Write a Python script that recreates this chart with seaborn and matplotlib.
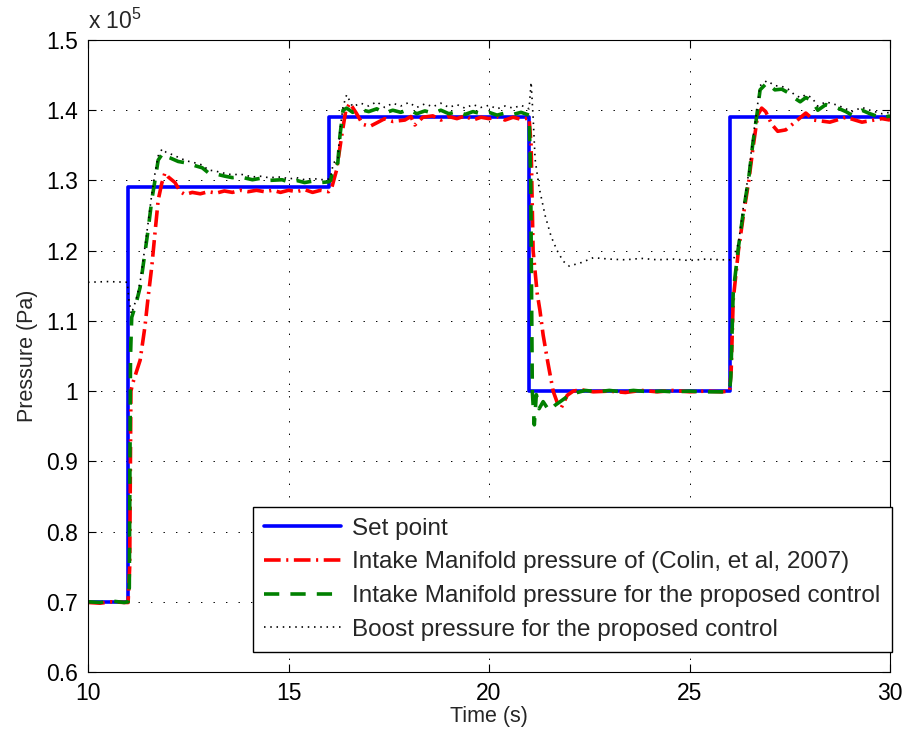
import numpy as np
import pandas as pd
import matplotlib
matplotlib.use("Agg")
import matplotlib.pyplot as plt
import seaborn as sns

# Pressure values in units of 1e5 Pa
SCALE_EXP = 5

# Set point
t_set = [10.0, 11.0, 11.0, 16.0, 16.0, 21.0, 21.0, 26.0, 26.0, 30.0]
p_set = [0.70, 0.70, 1.29, 1.29, 1.39, 1.39, 1.00, 1.00, 1.39, 1.39]

# Intake manifold pressure, reference controller (Colin et al., 2007)
t_colin = [10.0, 10.3, 10.6, 10.9, 11.0, 11.04, 11.07, 11.12, 11.3, 11.42, 11.5, 11.59,
           11.67, 11.75, 11.84, 11.92, 12.0, 12.17, 12.3, 12.42, 12.6, 12.8, 13.0, 13.2,
           13.4, 13.6, 13.8, 14.0, 14.2, 14.4, 14.6, 14.8, 15.0, 15.2, 15.4, 15.6, 15.8,
           16.0, 16.08, 16.2, 16.33, 16.43, 16.53, 16.7, 16.85, 17.03, 17.2, 17.4, 17.6,
           17.9, 18.05, 18.15, 18.35, 18.6, 18.8, 19.0, 19.2, 19.4, 19.6, 19.8, 20.0, 20.2,
           20.4, 20.6, 20.8, 21.0, 21.05, 21.1, 21.2, 21.27, 21.35, 21.47, 21.6, 21.7, 21.8,
           21.95, 22.1, 22.3, 22.6, 23.0, 23.4, 23.8, 24.2, 24.6, 25.0, 25.4, 25.8, 26.0,
           26.04, 26.09, 26.22, 26.35, 26.48, 26.58, 26.7, 26.8, 26.9, 27.05, 27.2, 27.4,
           27.63, 27.9, 28.1, 28.5, 28.9, 29.3, 29.6, 29.8, 30.0]
p_colin = [0.699, 0.698, 0.700, 0.699, 0.699, 0.75, 1.00, 1.012, 1.044, 1.092, 1.134, 1.177,
           1.225, 1.272, 1.296, 1.311, 1.305, 1.297, 1.284, 1.280, 1.283, 1.281, 1.284, 1.282,
           1.285, 1.283, 1.286, 1.284, 1.286, 1.284, 1.286, 1.283, 1.286, 1.284, 1.287, 1.283, 1.286,
           1.284, 1.290, 1.315, 1.365, 1.400, 1.410, 1.395, 1.380, 1.377, 1.382, 1.388, 1.384,
           1.386, 1.391, 1.379, 1.390, 1.392, 1.386, 1.391, 1.388, 1.392, 1.386, 1.390, 1.388, 1.391,
           1.386, 1.390, 1.387, 1.389, 1.35, 1.20, 1.14, 1.115, 1.08, 1.04, 1.00, 0.984, 0.976,
           0.994, 1.000, 1.002, 0.999, 1.000, 0.998, 1.001, 0.999, 1.001, 0.999, 1.000, 0.999, 1.000,
           1.03, 1.13, 1.20, 1.253, 1.300, 1.345, 1.393, 1.403, 1.398, 1.380, 1.370, 1.372,
           1.383, 1.396, 1.386, 1.383, 1.390, 1.383, 1.386, 1.388, 1.386]

# Intake manifold pressure, proposed controller
t_prop = [10.0, 10.3, 10.6, 10.9, 11.0, 11.03, 11.06, 11.09, 11.2, 11.3, 11.42, 11.5, 11.59,
          11.67, 11.75, 11.87, 11.95, 12.05, 12.25, 12.45, 12.67, 12.85, 13.0, 13.2, 13.42,
          13.6, 13.8, 14.1, 14.3, 14.5, 14.84, 15.0, 15.2, 15.4, 15.6, 15.8, 16.0, 16.05,
          16.12, 16.23, 16.28, 16.36, 16.45, 16.6, 16.8, 17.0, 17.2, 17.4, 17.6, 17.8, 18.0,
          18.2, 18.4, 18.6, 18.8, 19.0, 19.2, 19.4, 19.6, 19.8, 20.0, 20.2, 20.4, 20.6, 20.8,
          21.0, 21.04, 21.08, 21.13, 21.18, 21.25, 21.35, 21.5, 21.65, 21.8, 21.97, 22.2,
          22.4, 22.7, 23.0, 23.3, 23.6, 24.0, 24.3, 24.6, 25.0, 25.3, 25.6, 25.9, 26.0, 26.03,
          26.09, 26.22, 26.35, 26.48, 26.58, 26.68, 26.76, 26.93, 27.13, 27.3, 27.46, 27.6,
          27.76, 27.9, 28.05, 28.2, 28.4, 28.7, 28.9, 29.05, 29.3, 29.5, 29.8, 30.0]
p_prop = [0.700, 0.699, 0.701, 0.699, 0.700, 0.72, 1.05, 1.105, 1.125, 1.148, 1.197, 1.230, 1.272,
          1.300, 1.329, 1.339, 1.334, 1.332, 1.327, 1.325, 1.321, 1.318, 1.311, 1.309, 1.306,
          1.304, 1.305, 1.301, 1.303, 1.300, 1.301, 1.298, 1.300, 1.297, 1.299, 1.297, 1.298, 1.300,
          1.320, 1.325, 1.362, 1.400, 1.403, 1.397, 1.401, 1.398, 1.402, 1.396, 1.400, 1.397, 1.401,
          1.395, 1.399, 1.396, 1.400, 1.395, 1.398, 1.394, 1.398, 1.395, 1.397, 1.393, 1.396, 1.394, 1.397,
          1.393, 1.30, 1.00, 0.952, 0.995, 0.975, 0.985, 0.972, 0.980, 0.986, 0.993, 0.998,
          1.001, 0.999, 1.001, 0.999, 1.001, 0.999, 1.000, 0.999, 1.000, 0.999, 0.999, 0.999, 1.000, 1.02,
          1.14, 1.205, 1.258, 1.305, 1.353, 1.393, 1.429, 1.439, 1.429, 1.430, 1.425, 1.418,
          1.412, 1.418, 1.414, 1.400, 1.408, 1.403, 1.398, 1.393, 1.400, 1.395, 1.389, 1.392]

# Boost pressure, proposed controller
t_boost = [10.0, 10.5, 10.98, 11.02, 11.08, 11.2, 11.3, 11.42, 11.5, 11.59, 11.67, 11.75,
           11.85, 11.95, 12.05, 12.25, 12.45, 12.67, 12.85, 13.0, 13.2, 13.42, 13.6, 13.8,
           14.1, 14.3, 14.5, 14.84, 15.0, 15.2, 15.4, 15.6, 15.8, 16.0, 16.05, 16.12, 16.23,
           16.28, 16.36, 16.45, 16.6, 16.8, 17.0, 17.2, 17.4, 17.6, 17.8, 18.0, 18.2, 18.4,
           18.6, 18.8, 19.0, 19.2, 19.4, 19.6, 19.8, 20.0, 20.2, 20.4, 20.6, 20.8, 21.0, 21.05,
           21.1, 21.15, 21.25, 21.4, 21.55, 21.7, 21.85, 22.0, 22.3, 22.6, 23.0, 23.4, 23.8,
           24.2, 24.6, 25.0, 25.4, 25.8, 26.1, 26.15, 26.22, 26.35, 26.48, 26.58, 26.68, 26.76,
           26.93, 27.13, 27.3, 27.46, 27.6, 27.76, 27.9, 28.05, 28.2, 28.4, 28.7, 28.9, 29.05,
           29.3, 29.5, 29.8, 30.0]
p_boost = [1.155, 1.156, 1.155, 1.13, 1.110, 1.13, 1.155, 1.205, 1.24, 1.28, 1.31, 1.335,
           1.345, 1.340, 1.338, 1.333, 1.328, 1.325, 1.322, 1.315, 1.313, 1.310, 1.308, 1.309,
           1.305, 1.306, 1.304, 1.305, 1.302, 1.304, 1.301, 1.303, 1.301, 1.302, 1.305, 1.325, 1.33,
           1.37, 1.405, 1.422, 1.405, 1.410, 1.406, 1.412, 1.404, 1.410, 1.406, 1.411, 1.404, 1.409,
           1.405, 1.410, 1.404, 1.408, 1.403, 1.408, 1.404, 1.407, 1.402, 1.406, 1.403, 1.407, 1.402, 1.440,
           1.390, 1.33, 1.29, 1.25, 1.22, 1.20, 1.185, 1.178, 1.183, 1.190, 1.188, 1.187, 1.189,
           1.187, 1.188, 1.186, 1.188, 1.187, 1.187, 1.20, 1.21, 1.265, 1.312, 1.36, 1.40, 1.435,
           1.442, 1.435, 1.434, 1.430, 1.423, 1.418, 1.422, 1.418, 1.406, 1.412, 1.407, 1.402, 1.398,
           1.404, 1.400, 1.395, 1.397]

labels = ["Set point",
          "Intake Manifold pressure of (Colin, et al, 2007)",
          "Intake Manifold pressure for the proposed control",
          "Boost pressure for the proposed control"]

x_ticks = [10, 15, 20, 25, 30]
y_ticks = [0.6, 0.7, 0.8, 0.9, 1.0, 1.1, 1.2, 1.3, 1.4, 1.5]
y_tick_labels = ["0.6", "0.7", "0.8", "0.9", "1", "1.1", "1.2", "1.3", "1.4", "1.5"]

sns.set_style("ticks")
plt.rcParams["font.family"] = ["Liberation Sans", "DejaVu Sans"]
plt.rcParams["mathtext.default"] = "regular"
plt.rcParams["lines.scale_dashes"] = False

fig = plt.figure(figsize=(9.09, 7.42), dpi=100)
ax = fig.add_axes([88 / 909, 1 - 672 / 742, 802 / 909, 632 / 742])

series = [
    (t_set, p_set, "#0000ff", "-", 2.6),
    (t_colin, p_colin, "#ff0000", (0, (12, 4, 1.5, 4)), 2.6),
    (t_prop, p_prop, "#008000", (0, (11, 8)), 2.6),
    (t_boost, p_boost, "#000000", (0, (1.1, 3.4)), 1.2),
]
for (t, p, color, ls, lw), lab in zip(series, labels):
    df = pd.DataFrame({"Time (s)": t, "Pressure": p})
    sns.lineplot(data=df, x="Time (s)", y="Pressure", ax=ax, color=color,
                 linestyle=ls, linewidth=lw, estimator=None, sort=False,
                 label=lab, legend=False)

ax.set_xlim(10, 30)
ax.set_ylim(0.6, 1.5)
ax.set_xticks(x_ticks)
ax.set_yticks(y_ticks)
ax.set_yticklabels(y_tick_labels)
ax.tick_params(direction="in", length=6, width=0.8, labelsize=16.5,
               top=True, right=True, colors="black", pad=7)
ax.grid(True, color="black", linestyle=(0, (1, 8)), linewidth=0.7)
for sp in ax.spines.values():
    sp.set_visible(True)
    sp.set_linewidth(0.8)
    sp.set_color("black")

ax.set_xlabel("Time (s)", fontsize=15.5, labelpad=1)
ax.set_ylabel("Pressure (Pa)", fontsize=15.5, labelpad=6)
ax.text(0.0, 1.01, "x 10$^{%d}$" % SCALE_EXP, transform=ax.transAxes,
        ha="left", va="bottom", fontsize=16.5)

leg = ax.legend(loc="lower right", bbox_to_anchor=(1.002, 0.032), borderaxespad=0,
                fontsize=17.5, frameon=True, fancybox=False, handlelength=3.2,
                handletextpad=0.45, labelspacing=0.48, borderpad=0.45)
leg.get_frame().set_edgecolor("black")
leg.get_frame().set_linewidth(1.0)
leg.get_frame().set_alpha(1.0)

fig.savefig("out.png", dpi=100)
